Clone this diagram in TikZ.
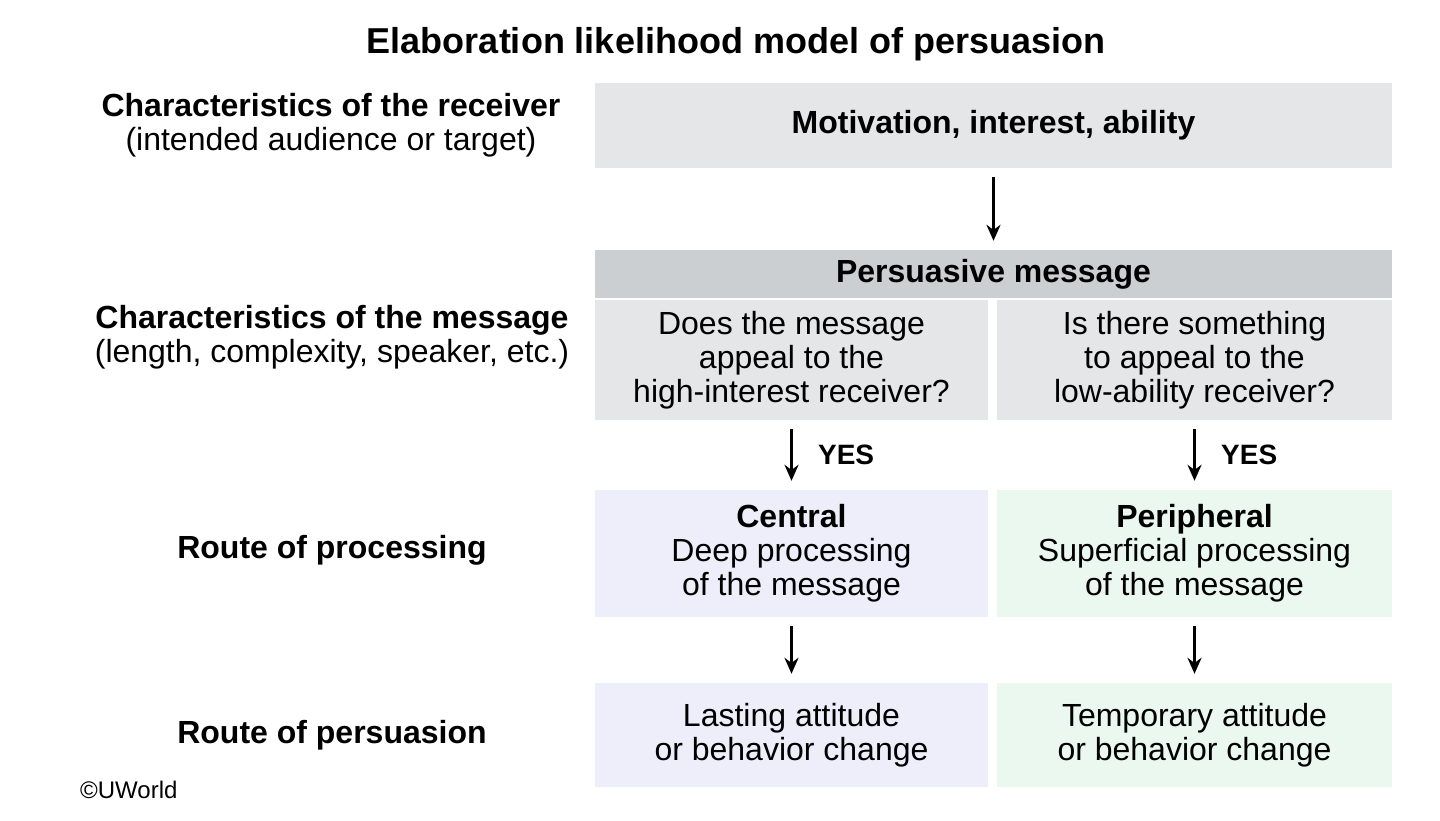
\documentclass[tikz,border=0pt]{standalone}
\usepackage{fontspec}
\setmainfont{Liberation Sans}
\usetikzlibrary{arrows.meta}
\definecolor{boxgray}{RGB}{228,230,232}
\definecolor{headgray}{RGB}{204,207,210}
\definecolor{lavender}{RGB}{238,238,251}
\definecolor{mint}{RGB}{235,248,240}

\begin{document}
\begin{tikzpicture}
      [x = 1pt, y = -1pt,
      flow/.style={-{Stealth[length = 16pt, width = 14pt]}, line width = 2.6pt,
         shorten < = 9pt, shorten > = 9pt},
      box/.style= {
         fill = boxgray,
         rectangle,
         inner sep = 0pt,
         align = center,
         font = \fontsize{32}{34}\selectfont
      },
      wide/.style= {box, minimum width = 797pt},
      half/.style= {box, minimum width = 393pt},
      side/.style= {
         align = center,
         inner sep = 0pt,
         font = \fontsize{32}{34}\selectfont
      }]
      \useasboundingbox (0, 0) rectangle (1440, 820);

      \node[side, font = \fontsize{36}{40}\selectfont\bfseries] (title) at (736, 44)
         {Elaboration likelihood model of persuasion};

      % right column
      \node[wide, minimum height = 85pt, font = \fontsize{32}{34}\selectfont\bfseries]
         (receiver) at (993.5, 125.5) {Motivation, interest, ability};
      \node[wide, minimum height = 48pt, fill = headgray,
         font = \fontsize{32}{34}\selectfont\bfseries]
         (message) at (993.5, 274) {Persuasive message};
      \node[half, minimum height = 120pt] (qhigh) at (791.5, 360)
         {Does the message\\appeal to the\\high-interest receiver?};
      \node[half, minimum height = 120pt, minimum width = 395pt] (qlow) at (1194.5, 360)
         {Is there something\\to appeal to the\\low-ability receiver?};

      \node[half, minimum height = 127pt, fill = lavender] (central) at (791.5, 553.5)
         {\textbf{Central}\\Deep processing\\of the message};
      \node[half, minimum height = 127pt, minimum width = 395pt, fill = mint]
         (peripheral) at (1194.5, 553.5)
         {\textbf{Peripheral}\\Superficial processing\\of the message};

      \node[half, minimum height = 104pt, fill = lavender] (lasting) at (791.5, 735)
         {Lasting attitude\\or behavior change};
      \node[half, minimum height = 104pt, minimum width = 395pt, fill = mint]
         (temporary) at (1194.5, 735)
         {Temporary attitude\\or behavior change};

      \draw[flow] (receiver) -- (message);
      \draw[flow] (qhigh) -- (central)
         node[midway, right = 22pt, font = \fontsize{28}{30}\selectfont\bfseries] (yes1) {YES};
      \draw[flow] (qlow) -- (peripheral)
         node[midway, right = 22pt, font = \fontsize{28}{30}\selectfont\bfseries] (yes2) {YES};
      \draw[flow] (central) -- (lasting);
      \draw[flow] (peripheral) -- (temporary);

      % left column
      \node[side] (lreceiver) at (331, 125)
         {\textbf{Characteristics of the receiver}\\(intended audience or target)};
      \node[side] (lmessage) at (332, 337.5)
         {\textbf{Characteristics of the message}\\(length, complexity, speaker, etc.)};
      \node[side, font = \fontsize{32}{34}\selectfont\bfseries] (lprocessing) at (332, 550)
         {Route of processing};
      \node[side, font = \fontsize{32}{34}\selectfont\bfseries] (lpersuasion) at (332, 735)
         {Route of persuasion};

      \node[side, anchor = west, font = \fontsize{24}{26}\selectfont] (uworld) at (80, 790)
         {\textcopyright UWorld};
\end{tikzpicture}
\end{document}
